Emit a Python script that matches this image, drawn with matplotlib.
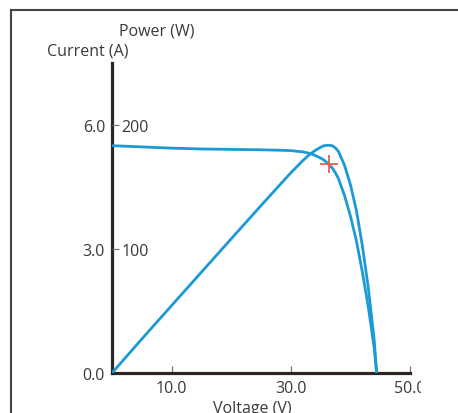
import numpy as np
import matplotlib
matplotlib.use("Agg")
import matplotlib.pyplot as plt
from matplotlib.lines import Line2D
from matplotlib.transforms import Bbox

plt.rcParams['font.family'] = ['Open Sans', 'DejaVu Sans']

# I-V curve
voltage = [0, 5, 10, 15, 20, 25, 28, 30, 32, 33, 34, 35, 35.5, 36, 36.5, 37,
           37.5, 38, 39, 40, 41, 42, 43, 44, 44.4]
current = [5.50, 5.47, 5.44, 5.42, 5.41, 5.40, 5.39, 5.38, 5.35, 5.32, 5.27,
           5.20, 5.16, 5.10, 5.03, 4.95, 4.84, 4.70, 4.30, 3.80, 3.20, 2.45,
           1.60, 0.60, 0.0]
# P-V curve (W)
power = [0, 27.4, 54.4, 81.3, 108.2, 135.0, 150.9, 161.4, 171.2, 175.6, 179.2,
         182.0, 183.2, 183.6, 183.6, 183.2, 181.5, 178.6, 167.7, 152.0, 131.2,
         102.9, 68.8, 26.4, 0]
mpp_v, mpp_i = 36.4, 5.05

x_ticks = [10, 30, 50]
x_labels = ['10.0', '30.0', '50.0']
i_ticks = [0, 3, 6]
i_labels = ['0.0', '3.0', '6.0']
p_ticks = [100, 200]
p_labels = ['100', '200']

blue = '#1b9ad6'
axcol = '#2e2623'
txt = '#3a3a3a'
fs = 11.5

W, H = 458, 414
fig = plt.figure(figsize=(W / 100, H / 100), dpi=100)
ax = fig.add_axes([112 / W, (H - 374) / H, (410 - 112) / W, (374 - 64) / H])
ax2 = ax.twinx()

ax.plot(voltage, current, color=blue, lw=2.0, zorder=3)
ax2.plot(voltage, power, color=blue, lw=2.0, zorder=3)
ax.plot([mpp_v], [mpp_i], marker='+', ms=13, mew=1.3, color='#e8604a',
        zorder=5, linestyle='none')

ax.set_xlim(0, 50)
ax.set_ylim(0, 7.5)
ax2.set_ylim(0, 250)

for a in (ax, ax2):
    for s in ('top', 'right', 'left', 'bottom'):
        a.spines[s].set_visible(False)
for s in ('left', 'bottom'):
    ax.spines[s].set_visible(True)
    ax.spines[s].set_color(axcol)
    ax.spines[s].set_linewidth(2.3)
ax.spines['bottom'].set_bounds(0, 50)

ax.set_xticks(x_ticks)
ax.set_xticklabels(x_labels)
ax.set_yticks(i_ticks)
ax.set_yticklabels(i_labels)
ax.tick_params(axis='x', direction='in', length=5, width=0.9, color='#777777',
               pad=5, labelsize=fs, labelcolor=txt)
ax.tick_params(axis='y', length=0, pad=5, labelsize=fs, labelcolor=txt)

ax2.set_yticks(p_ticks)
ax2.set_yticklabels(p_labels)
ax2.tick_params(axis='y', direction='out', length=5, width=0.9, color='#777777',
                pad=2, labelsize=fs, labelcolor=txt)
ax2.spines['right'].set_position(('axes', 0))

clip = Bbox.from_extents(0, 0, 421, H)
for lab in ax.get_xticklabels():
    lab.set_clip_box(clip)
    lab.set_clip_on(True)

fig.text(88 / W, 1 - 52 / H, 'Current (A)', ha='center', va='center',
         fontsize=fs, color=txt)
fig.text(157 / W, 1 - 32 / H, 'Power (W)', ha='center', va='center',
         fontsize=fs, color=txt)
fig.text(252 / W, 1 - 409 / H, 'Voltage (V)', ha='center', va='center',
         fontsize=fs, color=txt)

# frame around the figure (top and left edges)
fig.add_artist(Line2D([11 / W, 1], [1 - 11 / H, 1 - 11 / H], color='#444444', lw=1.5))
fig.add_artist(Line2D([11 / W, 11 / W], [0, 1 - 11 / H], color='#444444', lw=1.5))

fig.savefig('out.png', dpi=100)
